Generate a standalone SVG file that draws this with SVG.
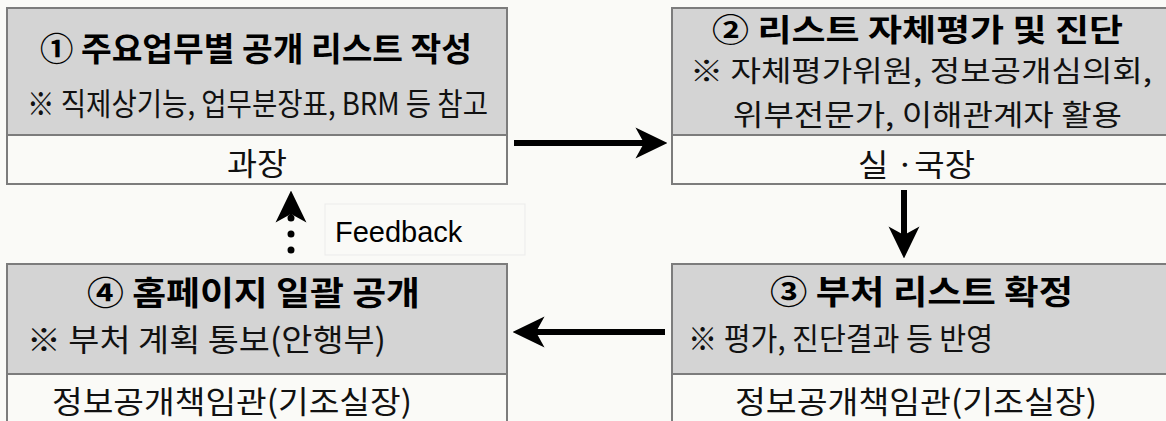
<svg xmlns="http://www.w3.org/2000/svg" width="1166" height="421" viewBox="0 0 1166 421">
<style>
.bg{fill:#fafaf7}
.hd{fill:#d4d4d4;stroke:#7c7c7c;stroke-width:2}
.ft{fill:#fafaf7;stroke:#7c7c7c;stroke-width:2}
.t{font-family:"Noto Sans CJK KR","Noto Sans",sans-serif;font-weight:bold;font-size:33px;fill:#000;dominant-baseline:central}
.s{font-family:"Noto Sans CJK KR","Noto Sans",sans-serif;font-size:31px;fill:#111;dominant-baseline:central}
.t2{font-size:31px}
.s2{font-size:29px}
.fb{font-family:"Liberation Sans",Arial,sans-serif;font-size:29px;fill:#000}
.ar{stroke:#000;stroke-width:6;fill:none}
.dot{stroke:#000;stroke-width:7;stroke-linecap:round;stroke-dasharray:0 16;fill:none}
</style>
<defs>
<marker id="head" markerUnits="userSpaceOnUse" markerWidth="32" markerHeight="32" viewBox="0 0 30 29" refX="8" refY="14.5" orient="auto">
<path d="M0,0 L30,14.5 L0,29 L8,14.5 Z" fill="#000"/>
</marker>
</defs>
<rect class="bg" x="0" y="0" width="1166" height="421"/>

<g id="node1">
<rect class="hd" x="7" y="8" width="500" height="127"/>
<rect class="ft" x="7" y="135" width="500" height="49"/>
<text class="t" x="40" y="47" textLength="432" lengthAdjust="spacingAndGlyphs">① 주요업무별 공개 리스트 작성</text>
<text class="s" x="27" y="101" textLength="461" lengthAdjust="spacingAndGlyphs">※ 직제상기능, 업무분장표, BRM 등 참고</text>
<text class="s" x="227" y="161" textLength="60" lengthAdjust="spacingAndGlyphs">과장</text>
</g>

<g id="node2">
<rect class="hd" x="672" y="8" width="500" height="127"/>
<rect class="ft" x="672" y="135" width="500" height="49"/>
<text class="t t2" x="712" y="27" textLength="411" lengthAdjust="spacingAndGlyphs">② 리스트 자체평가 및 진단</text>
<text class="s s2" x="690" y="69" textLength="462" lengthAdjust="spacingAndGlyphs">※ 자체평가위원, 정보공개심의회,</text>
<text class="s s2" x="733" y="113" textLength="389" lengthAdjust="spacingAndGlyphs">위부전문가, 이해관계자 활용</text>
<text class="s" x="858" y="162" textLength="117" lengthAdjust="spacingAndGlyphs">실 ·국장</text>
</g>

<g id="node3">
<rect class="hd" x="672" y="264" width="500" height="110"/>
<rect class="ft" x="672" y="374" width="500" height="60"/>
<text class="t" x="770" y="290" textLength="303" lengthAdjust="spacingAndGlyphs">③ 부처 리스트 확정</text>
<text class="s" x="688" y="336" textLength="305" lengthAdjust="spacingAndGlyphs">※ 평가, 진단결과 등 반영</text>
<text class="s" x="735" y="399" textLength="362" lengthAdjust="spacingAndGlyphs">정보공개책임관(기조실장)</text>
</g>

<g id="node4">
<rect class="hd" x="7" y="264" width="500" height="110"/>
<rect class="ft" x="7" y="374" width="500" height="60"/>
<text class="t" x="87" y="291" textLength="333" lengthAdjust="spacingAndGlyphs">④ 홈페이지 일괄 공개</text>
<text class="s" x="27" y="337" textLength="359" lengthAdjust="spacingAndGlyphs">※ 부처 계획 통보(안행부)</text>
<text class="s" x="52" y="399" textLength="360" lengthAdjust="spacingAndGlyphs">정보공개책임관(기조실장)</text>
</g>

<g id="feedback-label">
<rect x="325" y="204" width="200" height="51" fill="#fafaf7" stroke="#ebebeb" stroke-width="1"/>
<text class="fb" x="335" y="242">Feedback</text>
</g>

<g id="connectors">
<line class="ar" x1="514" y1="143" x2="644" y2="143" marker-end="url(#head)"/>
<line class="ar" x1="904" y1="190" x2="904" y2="235" marker-end="url(#head)"/>
<line class="ar" x1="665" y1="332" x2="536" y2="332" marker-end="url(#head)"/>
<line class="dot" x1="291" y1="250" x2="291" y2="216"/>
<line x1="291" y1="218" x2="291" y2="214" stroke="#000" stroke-width="2" marker-end="url(#head)"/>
</g>
</svg>
